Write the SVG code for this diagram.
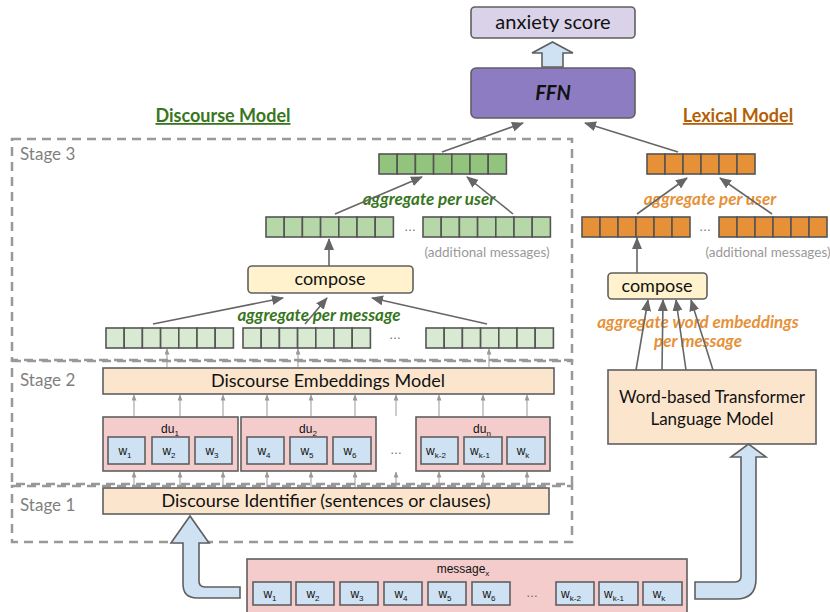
<svg xmlns="http://www.w3.org/2000/svg" xmlns:xlink="http://www.w3.org/1999/xlink" width="830" height="612" viewBox="0 0 830 612">
<style>
.box{stroke:#5f5f5f;stroke-width:1.6}
.lbl{font-family:Lato,"Liberation Sans",sans-serif;fill:#111;text-anchor:middle}
.w{font-family:"Liberation Sans",Arial,sans-serif;font-size:12px;fill:#111;text-anchor:middle}
.sub{font-size:8px}
.stage{font-family:Lato,"Liberation Sans",sans-serif;font-size:17px;fill:#7f7f7f}
.dash{fill:none;stroke:#999;stroke-width:2.5;stroke-dasharray:9 6}
.agg{font-family:Lato,"Liberation Sans",sans-serif;font-size:17px;font-weight:bold;font-style:italic;text-anchor:middle}
.add{font-family:Lato,"Liberation Sans",sans-serif;font-size:13.5px;fill:#999;text-anchor:middle}
.dots{font-family:"Liberation Sans",sans-serif;font-size:12px;fill:#666;text-anchor:middle}
.big{fill:#cfe2f3;stroke:#5f5f5f;stroke-width:1.6}
.arr{stroke:#666;stroke-width:1.6;fill:none;marker-end:url(#ah)}
.thin{stroke:#999;stroke-width:1;fill:none;marker-end:url(#ahs)}
</style>
<defs>
<marker id="ah" viewBox="0 0 12 10" refX="11" refY="5" markerWidth="12" markerHeight="10" orient="auto" markerUnits="userSpaceOnUse"><path d="M0,0 L12,5 L0,10 Z" fill="#666"/></marker>
<marker id="ahs" viewBox="0 0 6 5" refX="5.5" refY="2.5" markerWidth="6" markerHeight="5" orient="auto" markerUnits="userSpaceOnUse"><path d="M0,0 L6,2.5 L0,5 Z" fill="#999"/></marker>
<g id="vec7" stroke="#555" stroke-width="1.6">
<rect x="0" y="0" width="18.2" height="20"/><rect x="18.2" y="0" width="18.2" height="20"/><rect x="36.4" y="0" width="18.2" height="20"/><rect x="54.6" y="0" width="18.2" height="20"/><rect x="72.8" y="0" width="18.2" height="20"/><rect x="91" y="0" width="18.2" height="20"/><rect x="109.2" y="0" width="18.2" height="20"/>
</g>
<g id="vec6" stroke="#555" stroke-width="1.6">
<rect x="0" y="0" width="18" height="20"/><rect x="18" y="0" width="18" height="20"/><rect x="36" y="0" width="18" height="20"/><rect x="54" y="0" width="18" height="20"/><rect x="72" y="0" width="18" height="20"/><rect x="90" y="0" width="18" height="20"/>
</g>
</defs>
<rect width="830" height="612" fill="#fff"/>

<!-- stage boxes -->
<g id="stages">
<rect class="dash" x="12" y="139" width="560" height="221"/>
<rect class="dash" x="12" y="361" width="560" height="123"/>
<rect class="dash" x="12" y="486" width="560" height="56"/>
<text class="stage" x="20" y="160">Stage 3</text>
<text class="stage" x="20" y="386">Stage 2</text>
<text class="stage" x="20" y="511">Stage 1</text>
</g>

<!-- titles -->
<g id="titles">
<text x="223" y="122" font-family="Lato,'Liberation Sans',sans-serif" font-size="18" font-weight="bold" fill="#38761d" text-anchor="middle" text-decoration="underline">Discourse Model</text>
<text x="738" y="122" font-family="Lato,'Liberation Sans',sans-serif" font-size="18" font-weight="bold" fill="#b45f06" text-anchor="middle" text-decoration="underline">Lexical Model</text>
</g>

<g id="anxiety">
<rect class="box" x="471" y="7" width="164" height="31" rx="4" fill="#d9d2e9"/>
<text class="lbl" x="553" y="29" font-size="20">anxiety score</text>
</g>
<g id="ffn">
<rect class="box" x="471" y="68" width="164" height="50" rx="5" fill="#8e7cc3"/>
<text class="lbl" x="553" y="100" font-size="20" font-weight="bold" font-style="italic">FFN</text>
</g>

<!-- Discourse stage 3 -->
<g id="d-user-vec"><use xlink:href="#vec7" href="#vec7" x="379" y="154" fill="#93c47d"/></g>
<g id="d-msg-vec1"><use xlink:href="#vec7" href="#vec7" x="266" y="217" fill="#b6d7a8"/></g>
<g id="d-msg-vec2"><use xlink:href="#vec7" href="#vec7" x="423" y="217" fill="#b6d7a8"/></g>
<text class="dots" x="410" y="231">…</text>
<text class="add" x="487" y="257">(additional messages)</text>
<text class="agg" x="429" y="205" fill="#38761d">aggregate per user</text>

<g id="d-compose">
<rect class="box" x="248" y="266" width="165" height="27" rx="4" fill="#fff2cc"/>
<text class="lbl" x="330" y="285" font-size="18">compose</text>
</g>
<g id="du-vec1"><use xlink:href="#vec7" href="#vec7" x="106" y="328" fill="#d9ead3"/></g>
<g id="du-vec2"><use xlink:href="#vec7" href="#vec7" x="243" y="328" fill="#d9ead3"/></g>
<g id="du-vec3"><use xlink:href="#vec7" href="#vec7" x="426" y="328" fill="#d9ead3"/></g>
<text class="dots" x="395" y="339">…</text>
<text class="agg" x="319" y="321" fill="#38761d">aggregate per message</text>

<!-- Stage 2 -->
<g id="dem">
<rect class="box" x="103" y="368" width="451" height="26" fill="#fce5cd"/>
<text class="lbl" x="328" y="387" font-size="18">Discourse Embeddings Model</text>
</g>
<g id="du1">
<rect class="box" x="103" y="417" width="135" height="54" fill="#f4cccc"/>
<text class="w" x="170" y="433">du<tspan class="sub" dy="3">1</tspan></text>
<rect class="box" x="108" y="437" width="37" height="27" fill="#cfe2f3"/><text class="w" x="125" y="455">w<tspan class="sub" dy="3">1</tspan></text>
<rect class="box" x="152" y="437" width="37" height="27" fill="#cfe2f3"/><text class="w" x="169" y="455">w<tspan class="sub" dy="3">2</tspan></text>
<rect class="box" x="195" y="437" width="37" height="27" fill="#cfe2f3"/><text class="w" x="212" y="455">w<tspan class="sub" dy="3">3</tspan></text>
</g>
<g id="du2">
<rect class="box" x="241" y="417" width="135" height="54" fill="#f4cccc"/>
<text class="w" x="308" y="433">du<tspan class="sub" dy="3">2</tspan></text>
<rect class="box" x="247" y="437" width="37" height="27" fill="#cfe2f3"/><text class="w" x="264" y="455">w<tspan class="sub" dy="3">4</tspan></text>
<rect class="box" x="290" y="437" width="37" height="27" fill="#cfe2f3"/><text class="w" x="307" y="455">w<tspan class="sub" dy="3">5</tspan></text>
<rect class="box" x="333" y="437" width="38" height="27" fill="#cfe2f3"/><text class="w" x="350" y="455">w<tspan class="sub" dy="3">6</tspan></text>
</g>
<text class="dots" x="396" y="454">…</text>
<g id="dun">
<rect class="box" x="416" y="417" width="134" height="54" fill="#f4cccc"/>
<text class="w" x="482" y="433">du<tspan class="sub" dy="3">n</tspan></text>
<rect class="box" x="421" y="437" width="37" height="27" fill="#cfe2f3"/><text class="w" x="436" y="455">w<tspan class="sub" dy="3">k-2</tspan></text>
<rect class="box" x="464" y="437" width="38" height="27" fill="#cfe2f3"/><text class="w" x="480" y="455">w<tspan class="sub" dy="3">k-1</tspan></text>
<rect class="box" x="507" y="437" width="38" height="27" fill="#cfe2f3"/><text class="w" x="523" y="455">w<tspan class="sub" dy="3">k</tspan></text>
</g>

<!-- Stage 1 -->
<g id="di">
<rect class="box" x="103" y="488" width="446" height="26" fill="#fce5cd"/>
<text class="lbl" x="326" y="507" font-size="18">Discourse Identifier (sentences or clauses)</text>
</g>

<!-- message -->
<g id="message">
<rect class="box" x="247" y="559" width="440" height="60" fill="#f4cccc"/>
<text class="w" x="463" y="573">message<tspan class="sub" dy="3">x</tspan></text>
<rect class="box" x="253" y="582" width="38" height="23" fill="#cfe2f3"/><text class="w" x="270" y="598">w<tspan class="sub" dy="3">1</tspan></text>
<rect class="box" x="296" y="582" width="38" height="23" fill="#cfe2f3"/><text class="w" x="313" y="598">w<tspan class="sub" dy="3">2</tspan></text>
<rect class="box" x="340" y="582" width="38" height="23" fill="#cfe2f3"/><text class="w" x="357" y="598">w<tspan class="sub" dy="3">3</tspan></text>
<rect class="box" x="384" y="582" width="38" height="23" fill="#cfe2f3"/><text class="w" x="401" y="598">w<tspan class="sub" dy="3">4</tspan></text>
<rect class="box" x="428" y="582" width="38" height="23" fill="#cfe2f3"/><text class="w" x="445" y="598">w<tspan class="sub" dy="3">5</tspan></text>
<rect class="box" x="472" y="582" width="38" height="23" fill="#cfe2f3"/><text class="w" x="489" y="598">w<tspan class="sub" dy="3">6</tspan></text>
<text class="dots" x="532" y="597">…</text>
<rect class="box" x="556" y="582" width="38" height="23" fill="#cfe2f3"/><text class="w" x="571" y="598">w<tspan class="sub" dy="3">k-2</tspan></text>
<rect class="box" x="599" y="582" width="39" height="23" fill="#cfe2f3"/><text class="w" x="614" y="598">w<tspan class="sub" dy="3">k-1</tspan></text>
<rect class="box" x="643" y="582" width="39" height="23" fill="#cfe2f3"/><text class="w" x="659" y="598">w<tspan class="sub" dy="3">k</tspan></text>
</g>

<!-- Lexical -->
<g id="wtlm">
<rect class="box" x="608" y="370" width="208" height="74" fill="#fce5cd"/>
<text class="lbl" x="712" y="403" font-size="17">Word-based Transformer</text>
<text class="lbl" x="712" y="425" font-size="17">Language Model</text>
</g>
<g id="l-compose">
<rect class="box" x="608" y="273" width="99" height="26" rx="4" fill="#fff2cc"/>
<text class="lbl" x="657" y="292" font-size="18">compose</text>
</g>
<text class="agg" x="698" y="328" fill="#e69138">aggregate word embeddings</text>
<text class="agg" x="698" y="347" fill="#e69138">per message</text>
<g id="l-msg-vec1"><use xlink:href="#vec6" href="#vec6" x="582" y="217" fill="#e69138"/></g>
<g id="l-msg-vec2"><use xlink:href="#vec6" href="#vec6" x="719" y="217" fill="#e69138"/></g>
<text class="dots" x="705" y="231">…</text>
<text class="add" x="768" y="257">(additional messages)</text>
<g id="l-user-vec"><use xlink:href="#vec6" href="#vec6" x="647" y="154" fill="#e69138"/></g>
<text class="agg" x="710" y="205" fill="#e69138">aggregate per user</text>

<!-- connectors -->
<g id="connectors">
<path class="big" d="M542,67 L563,67 L563,53 L573,53 L552.5,42 L532,53 L542,53 Z"/>
<path class="big" d="M240,587 L205,587 Q199,587 199,581 L199,543 L209,543 L190,516 L171,543 L183,543 L183,584 Q183,598 197,598 L240,598 Z"/>
<path class="big" d="M695,582 L735,582 Q741,582 741,576 L741,457 L731,457 L748.5,444 L766,457 L756,457 L756,579 Q756,599 736,599 L695,599 Z"/>

<line class="arr" x1="442" y1="152" x2="523" y2="123"/>
<line class="arr" x1="678" y1="152" x2="585" y2="123"/>
<line class="arr" x1="335" y1="214" x2="422" y2="177"/>
<line class="arr" x1="513" y1="214" x2="467" y2="177"/>
<line class="arr" x1="329" y1="266" x2="329" y2="239"/>
<line class="arr" x1="153" y1="324" x2="283" y2="298"/>
<line class="arr" x1="305" y1="324" x2="327" y2="298"/>
<line class="arr" x1="487" y1="324" x2="372" y2="298"/>

<line class="arr" x1="637" y1="214" x2="687" y2="178"/>
<line class="arr" x1="772" y1="214" x2="720" y2="178"/>
<line class="arr" x1="637" y1="273" x2="637" y2="238"/>
<line class="arr" x1="636" y1="370" x2="648" y2="300"/>
<line class="arr" x1="662" y1="370" x2="663" y2="300"/>
<line class="arr" x1="686" y1="370" x2="676" y2="300"/>
<line class="arr" x1="713" y1="370" x2="691" y2="300"/>

<line class="thin" x1="167" y1="367" x2="167" y2="349"/>
<line class="thin" x1="298" y1="367" x2="298" y2="349"/>
<line class="thin" x1="489" y1="367" x2="489" y2="349"/>

<line class="thin" x1="134" y1="416" x2="134" y2="395"/>
<line class="thin" x1="180" y1="416" x2="180" y2="395"/>
<line class="thin" x1="223" y1="416" x2="223" y2="395"/>
<line class="thin" x1="267" y1="416" x2="267" y2="395"/>
<line class="thin" x1="311" y1="416" x2="311" y2="395"/>
<line class="thin" x1="355" y1="416" x2="355" y2="395"/>
<line class="thin" x1="396" y1="416" x2="396" y2="395"/>
<line class="thin" x1="439" y1="416" x2="439" y2="395"/>
<line class="thin" x1="483" y1="416" x2="483" y2="395"/>
<line class="thin" x1="527" y1="416" x2="527" y2="395"/>

<line class="thin" x1="134" y1="487" x2="134" y2="472"/>
<line class="thin" x1="180" y1="487" x2="180" y2="472"/>
<line class="thin" x1="223" y1="487" x2="223" y2="472"/>
<line class="thin" x1="267" y1="487" x2="267" y2="472"/>
<line class="thin" x1="311" y1="487" x2="311" y2="472"/>
<line class="thin" x1="355" y1="487" x2="355" y2="472"/>
<line class="thin" x1="396" y1="487" x2="396" y2="472"/>
<line class="thin" x1="439" y1="487" x2="439" y2="472"/>
<line class="thin" x1="483" y1="487" x2="483" y2="472"/>
<line class="thin" x1="527" y1="487" x2="527" y2="472"/>
</g>
</svg>
